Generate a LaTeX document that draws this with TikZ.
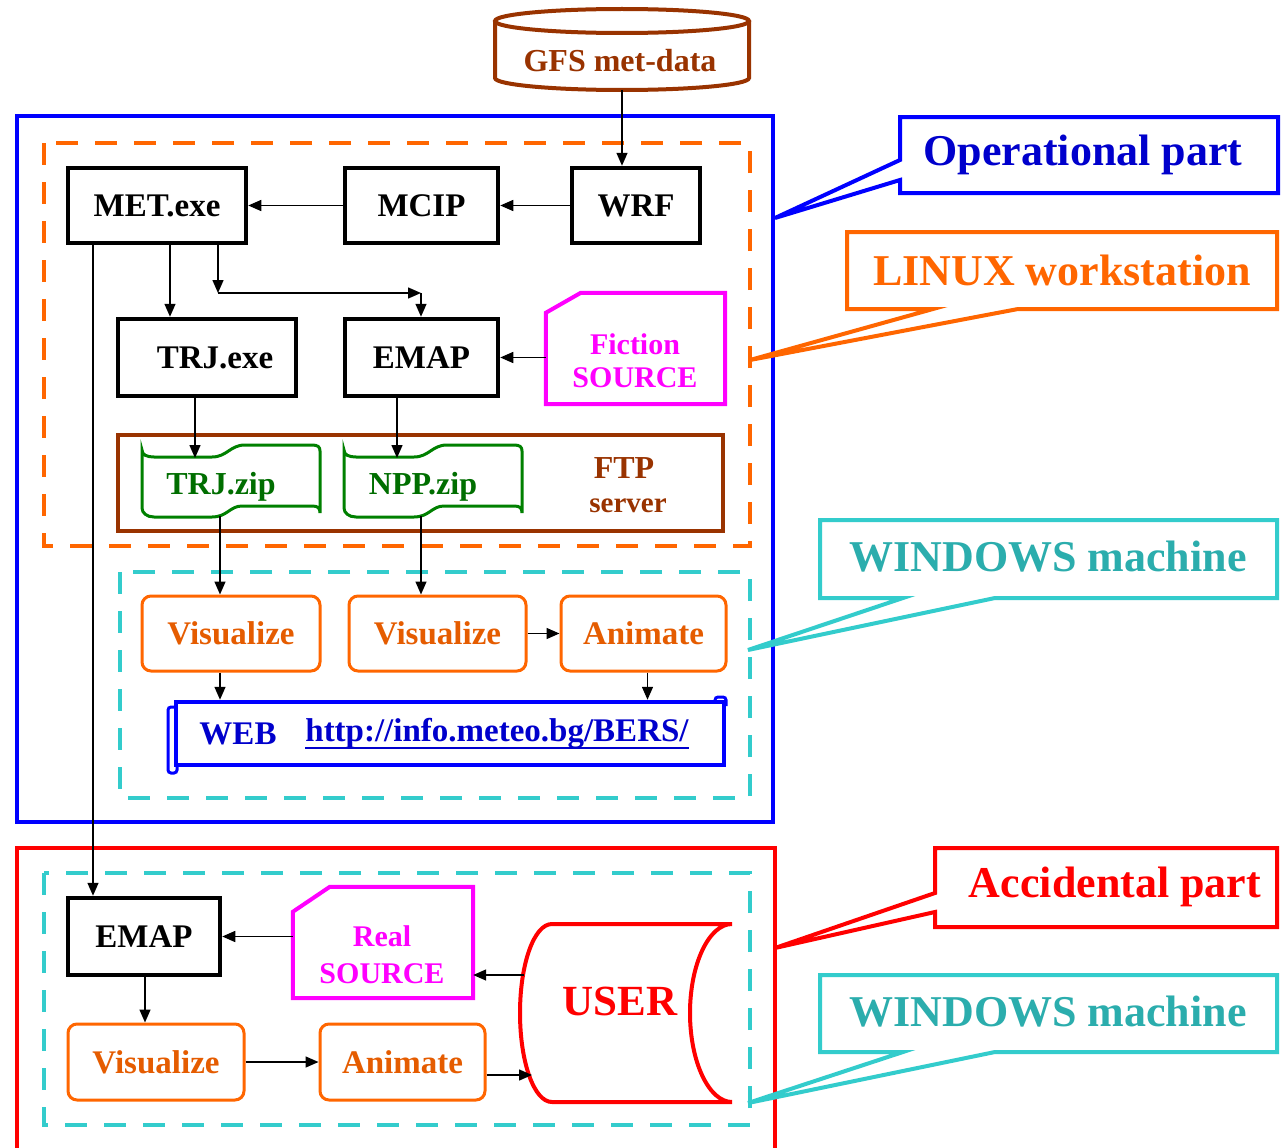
\documentclass[tikz,border=0pt]{standalone}
\usepackage{fontspec}
\setmainfont{Liberation Serif}
\usetikzlibrary{arrows.meta}
\definecolor{cbrown}{HTML}{993300}
\definecolor{cblue}{HTML}{0000FF}
\definecolor{cdblue}{HTML}{0000CC}
\definecolor{corange}{HTML}{FF6600}
\definecolor{cmag}{HTML}{FF00FF}
\definecolor{cgreen}{HTML}{008000}
\definecolor{cdgreen}{HTML}{006E00}
\definecolor{ccyan}{HTML}{33CCCC}
\definecolor{cred}{HTML}{FF0000}
\newcommand\fsz[2]{\fontsize{#1}{#2}\selectfont\bfseries}
\tikzset{
  blackbox/.style={draw=black, line width=4.5pt, font=\fsz{33}{38}, inner sep=0pt},
  visbox/.style={draw=corange, line width=3pt, rounded corners=9pt, text=corange!90!black, font=\fsz{33}{38}, inner sep=0pt},
  arr/.style={-{Triangle[length=13pt,width=11pt]}, line width=1.5pt, black},
  dashbox/.style={line width=4pt, dash pattern=on 22pt off 17pt},
  callout/.style={line width=4pt, fill=white},
  calltext/.style={font=\fsz{44}{48}},
  flagline/.style={draw=cgreen, line width=3pt, fill=white},
  flagtext/.style={text=cdgreen, font=\fsz{32}{36}},
  cardline/.style={draw=cmag, line width=4pt},
  cardtext/.style={text=cmag, font=\fsz{30}{33}, align=center},
  hidden/.style={inner sep=0pt}
}
\begin{document}
\begin{tikzpicture}[x=1pt,y=-1pt]
\useasboundingbox (0,0) rectangle (1286,1148);
\fill[white] (0,0) rectangle (1286,1148);

% containers
\draw[cblue, line width=3.5pt] (17,116) rectangle (773,822);
\draw[corange, dashbox] (44,143) rectangle (750,546);
\draw[ccyan, dashbox] (120,572) rectangle (750,798);
\draw[cred, line width=4pt] (17,1170) -- (17,848) -- (775,848) -- (775,1170);
\draw[ccyan, dashbox] (44,873) rectangle (750,1125);

% callouts
\draw[cblue, callout] (900,117) -- (1278,117) -- (1278,193) -- (900,193) -- (900,180) -- (775,218) -- (900,160) -- cycle;
\node[calltext, text=cdblue] (opt) at (1083,155) {Operational part};
\draw[corange, callout] (847,232) -- (1277,232) -- (1277,309) -- (1018,309) -- (750,360) -- (933,309) -- (847,309) -- cycle;
\node[calltext, text=corange] (lin) at (1062,270) {LINUX workstation};
\draw[ccyan, callout] (820,520) -- (1277,520) -- (1277,598) -- (995,598) -- (748,650) -- (903,598) -- (820,598) -- cycle;
\node[calltext, text=ccyan!85!black] (win1) at (1048,557) {WINDOWS machine};
\draw[cred, callout] (935,848) -- (1277,848) -- (1277,927) -- (935,927) -- (935,912) -- (775,948) -- (935,893) -- cycle;
\node[calltext, text=cred] (acc) at (1115,887) {Accidental part};
\draw[ccyan, callout] (820,975) -- (1277,975) -- (1277,1052) -- (995,1052) -- (748,1103) -- (903,1052) -- (820,1052) -- cycle;
\node[calltext, text=ccyan!85!black] (win2) at (1048,1012) {WINDOWS machine};

% GFS cylinder
\draw[cbrown, line width=4pt, fill=white] (495,21) -- (495,78) .. controls (495,84.6) and (552,90) .. (622,90) .. controls (692,90) and (749,84.6) .. (749,78) -- (749,21);
\draw[cbrown, line width=4pt] (622,21) ellipse [x radius=127pt, y radius=12pt];
\node[font=\fsz{32}{36}, text=cbrown] (gfs) at (620,61) {GFS met-data};
\coordinate (gfsb) at (622,90);

% black boxes
\node[blackbox, minimum width=178pt, minimum height=75pt] (met) at (157,205.5) {MET.exe};
\node[blackbox, minimum width=153pt, minimum height=75pt] (mcip) at (421.5,205.5) {MCIP};
\node[blackbox, minimum width=128pt, minimum height=75pt] (wrf) at (636,205.5) {WRF};
\node[blackbox, minimum width=178pt, minimum height=77pt] (trj) at (207,357.5) {\hspace*{16pt}TRJ.exe};
\node[blackbox, minimum width=153pt, minimum height=77pt] (emap) at (421.5,357.5) {EMAP};

% fiction source card
\node[hidden, minimum width=179pt, minimum height=111pt] (fic) at (635.5,348.5) {};
\draw[cardline] (fic.south west) -- ([yshift=-20pt]fic.north west) -- ([xshift=35pt]fic.north west) -- (fic.north east) -- (fic.south east) -- cycle;
\node[cardtext] (fict) at (635,361) {Fiction\\SOURCE};

% FTP server
\node[draw=cbrown, line width=3.5pt, minimum width=605pt, minimum height=96pt, inner sep=0pt] (ftp) at (420.5,483) {};
\node[text=cbrown, font=\fsz{32}{36}] (ftpt) at (624,468) {FTP};
\node[text=cbrown, font=\fsz{29}{32}] (srv) at (628,506) {server};

% zip flags
\begin{scope}[shift={(142,445)}]
\draw[flagline] (0,5) .. controls (0,10) and (5,12) .. (12,12) -- (70,12) .. controls (85,12) and (88,0) .. (103,0) -- (170,0) .. controls (176,0) and (178,2) .. (178,6) -- (178,68) .. controls (178,63) and (176,61) .. (170,61) -- (100,61) .. controls (88,61) and (85,72) .. (70,72) -- (12,72) .. controls (5,72) and (0,68) .. (0,63) -- cycle;
\end{scope}
\begin{scope}[shift={(344,445)}]
\draw[flagline] (0,5) .. controls (0,10) and (5,12) .. (12,12) -- (70,12) .. controls (85,12) and (88,0) .. (103,0) -- (170,0) .. controls (176,0) and (178,2) .. (178,6) -- (178,68) .. controls (178,63) and (176,61) .. (170,61) -- (100,61) .. controls (88,61) and (85,72) .. (70,72) -- (12,72) .. controls (5,72) and (0,68) .. (0,63) -- cycle;
\end{scope}
\node[flagtext] (trjzip) at (221,487) {TRJ.zip};
\node[flagtext] (nppzip) at (423,487) {NPP.zip};
\coordinate (trjtop) at (195,458);
\coordinate (npptop) at (397,458);
\coordinate (trjbot) at (220,516);
\coordinate (nppbot) at (421,516);

% visualize / animate (operational)
\node[visbox, minimum width=178pt, minimum height=75pt] (vis1) at (231,633.5) {Visualize};
\node[visbox, minimum width=177pt, minimum height=75pt] (vis2) at (437.5,633.5) {Visualize};
\node[visbox, minimum width=165pt, minimum height=75pt] (anim) at (643.5,633.5) {Animate};

% WEB scroll
\node[draw=cblue, line width=4.5pt, minimum width=548pt, minimum height=63pt, inner sep=0pt] (web) at (450,733.5) {};
\draw[cblue, line width=3pt, rounded corners=3pt] (177,707) -- (168,707) -- (168,773) -- (177,773) -- (177,764);
\draw[cblue, line width=3pt, rounded corners=3pt] (715,702) -- (715,697) -- (726,697) -- (726,706);
\node[text=cdblue, font=\fsz{33}{36}] (webt) at (238,734) {WEB};
\node[text=cdblue, font=\fsz{33}{36}, inner sep=0pt] (url) at (497,734) {http://info.meteo.bg/BERS/};
\draw[cdblue, line width=2.5pt] ([yshift=-6pt]url.base west) -- ([yshift=-6pt]url.base east);

% accidental part
\node[blackbox, minimum width=152pt, minimum height=77pt] (emap2) at (144,936.5) {EMAP};
\node[hidden, minimum width=180pt, minimum height=111pt] (rsrc) at (383,942.5) {};
\draw[cardline] (rsrc.south west) -- ([yshift=-25pt]rsrc.north west) -- ([xshift=37pt]rsrc.north west) -- (rsrc.north east) -- (rsrc.south east) -- cycle;
\node[cardtext, font=\fsz{30}{37}] (rsrct) at (382,955) {Real\\SOURCE};
\draw[cred, line width=4pt, fill=white] (552,924) -- (732,924) .. controls (709,924) and (690,964) .. (690,1013) .. controls (690,1062) and (709,1102) .. (732,1102) -- (552,1102) .. controls (534,1102) and (520,1062) .. (520,1013) .. controls (520,964) and (534,924) .. (552,924) -- cycle;
\node[text=cred, font=\fsz{43}{46}] (user) at (620,1001) {USER};
\coordinate (u1) at (524,975);
\coordinate (u2) at (532,1075);
\node[visbox, minimum width=176pt, minimum height=76pt] (vis3) at (156,1062) {Visualize};
\node[visbox, minimum width=165pt, minimum height=76pt] (anim2) at (402.5,1062) {Animate};

% connectors
\draw[arr] (gfsb) -- (gfsb |- wrf.north);
\draw[arr] (wrf.west) -- (mcip.east);
\draw[arr] (mcip.west) -- (met.east);
\coordinate (m1) at ([xshift=13pt]met.south);
\draw[arr] (m1) -- (m1 |- trj.north);
\coordinate (k1) at (218,293);
\coordinate (k2) at (421,293);
\draw[arr] (met.south -| k1) -- (k1);
\draw[arr] (k1) -- (k2);
\draw[arr] (k2) -- (k2 |- emap.north);
\draw[arr] (fic.west |- emap.east) -- (emap.east);
\draw[arr] (trj.south -| trjtop) -- (trjtop);
\draw[arr] (emap.south -| npptop) -- (npptop);
\draw[arr] (trjbot) -- (trjbot |- vis1.north);
\draw[arr] (nppbot) -- (nppbot |- vis2.north);
\draw[arr] (vis2.east) -- (anim.west);
\coordinate (a1) at ([xshift=-11pt]vis1.south);
\draw[arr] (a1) -- (a1 |- web.north);
\coordinate (a2) at ([xshift=4pt]anim.south);
\draw[arr] (a2) -- (a2 |- web.north);
\coordinate (l1) at ([xshift=-64pt]met.south);
\draw[arr] (l1) -- (l1 |- emap2.north);
\draw[arr] (rsrc.west |- emap2.east) -- (emap2.east);
\draw[arr] (u1) -- (u1 -| rsrc.east);
\coordinate (e1) at ([xshift=1pt]emap2.south);
\draw[arr] (e1) -- (e1 |- vis3.north);
\draw[arr] (vis3.east) -- (anim2.west);
\draw[arr] (anim2.east |- u2) -- (u2);
\end{tikzpicture}
\end{document}
